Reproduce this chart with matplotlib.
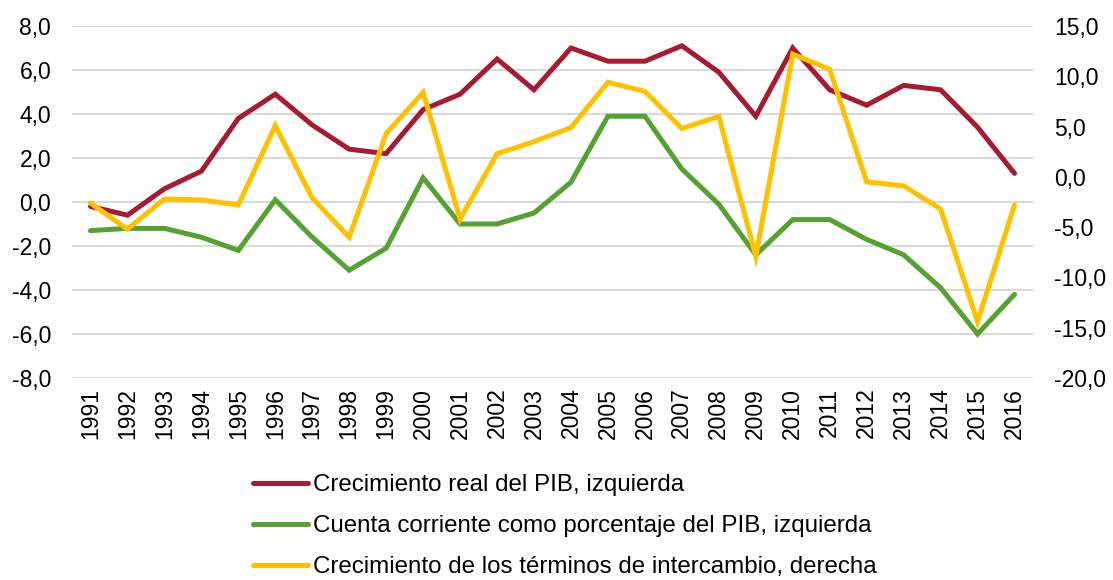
import matplotlib
matplotlib.use('Agg')
import matplotlib.pyplot as plt
from matplotlib.ticker import FuncFormatter

# Datos
years = list(range(1991, 2017))
pib = [-0.2, -0.6, 0.6, 1.4, 3.8, 4.9, 3.5, 2.4, 2.2, 4.2, 4.9, 6.5, 5.1, 7.0,
       6.4, 6.4, 7.1, 5.9, 3.9, 7.0, 5.1, 4.4, 5.3, 5.1, 3.4, 1.3]
cuenta = [-1.3, -1.2, -1.2, -1.6, -2.2, 0.1, -1.6, -3.1, -2.1, 1.1, -1.0, -1.0,
          -0.5, 0.9, 3.9, 3.9, 1.5, -0.1, -2.4, -0.8, -0.8, -1.7, -2.4, -3.9,
          -6.0, -4.2]
terminos = [-2.6, -5.2, -2.2, -2.3, -2.8, 5.1, -2.1, -6.0, 4.3, 8.4, -4.2, 2.3,
            3.5, 4.9, 9.4, 8.5, 4.8, 6.0, -7.9, 12.2, 10.7, -0.5, -0.9, -3.2,
            -14.4, -2.8]

labels = ['Crecimiento real del PIB, izquierda',
          'Cuenta corriente como porcentaje del PIB, izquierda',
          'Crecimiento de los términos de intercambio, derecha']
colors = ['#A51C30', '#55A232', '#FFC000']

plt.rcParams['font.family'] = ['Liberation Sans', 'DejaVu Sans']
FS = 16.5
LEG_FS = 17.4

fig = plt.figure(figsize=(11.13, 5.80), dpi=100)
ax = fig.add_axes([72 / 1113, 1 - 378 / 580, (1033 - 72) / 1113, (378 - 26) / 580])
ax2 = ax.twinx()

x = list(range(len(years)))
l1, = ax.plot(x, pib, color=colors[0], lw=3.6, solid_capstyle='round', solid_joinstyle='miter', zorder=3)
l2, = ax.plot(x, cuenta, color=colors[1], lw=3.6, solid_capstyle='round', solid_joinstyle='miter', zorder=3)
l3, = ax2.plot(x, terminos, color=colors[2], lw=3.6, solid_capstyle='round', solid_joinstyle='miter', zorder=3)

ax.set_ylim(-8, 8)
ax.set_yticks(range(-8, 9, 2))
ax2.set_ylim(-20, 15)
ax2.set_yticks(range(-20, 16, 5))
ax.set_xlim(-0.5, len(years) - 0.5)
ax.set_xticks(x)
ax.set_xticklabels([str(y) for y in years], rotation=90, fontsize=FS)

fmt = FuncFormatter(lambda v, p: f'{v:.1f}'.replace('.', ','))
ax.yaxis.set_major_formatter(fmt)
ax2.yaxis.set_major_formatter(fmt)

ax.grid(axis='y', color='#D9D9D9', lw=1.5, zorder=0)
ax.set_axisbelow(True)
for a in (ax, ax2):
    for s in a.spines.values():
        s.set_visible(False)
    a.tick_params(length=0, labelsize=FS)
ax.tick_params(axis='y', pad=15)
ax.tick_params(axis='x', pad=7)
ax2.tick_params(axis='y', pad=15)

fig.legend([l1, l2, l3], labels, loc='upper left', bbox_to_anchor=(253 / 1113, 1 - 474 / 580),
           frameon=False, fontsize=LEG_FS, handlelength=2.27, handletextpad=0.21,
           labelspacing=0.79, borderpad=0, borderaxespad=0)

fig.savefig('out.png', dpi=100, facecolor='white')
